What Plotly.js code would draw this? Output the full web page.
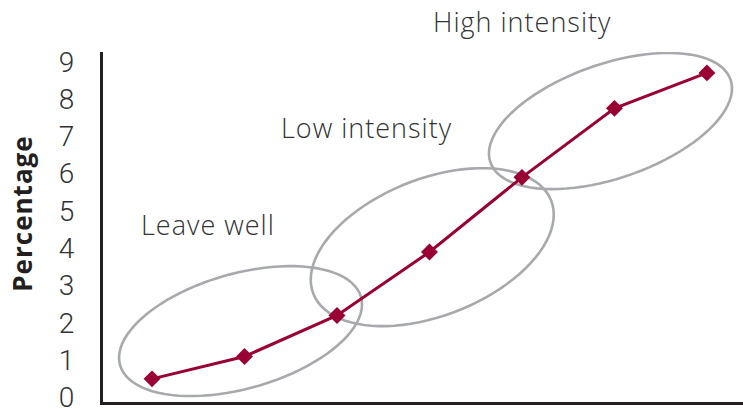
<!DOCTYPE html>
<html>
<head>
<meta charset="utf-8">
<script src="https://cdn.plot.ly/plotly-3.0.1.min.js"></script>
<style>
html,body{margin:0;padding:0;background:#fff;}
#chart{width:743px;height:409px;}
text.annotation-text{letter-spacing:1px;}
</style>
</head>
<body>
<div id="chart"></div>
<script>
// ---- data ----
var stages = [1, 2, 3, 4, 5, 6, 7];
var percentage = [0.5, 1.1, 2.2, 3.9, 5.9, 7.75, 8.7];
var yTicks = [0, 1, 2, 3, 4, 5, 6, 7, 8, 9];

var groupLabels = ["Leave well", "Low intensity", "High intensity"];
var labelX = [0.164, 0.412, 0.654];   // paper fractions
var labelY = [0.506, 0.783, 1.088];

// ellipse groups: centre (data), semi-axes (px), tilt (deg)
var ellCx = [1.957, 4.03, 5.957];
var ellCy = [1.78, 4.03, 7.41];
var ellA = [125.2, 127.7, 127];
var ellB = [57.5, 68.5, 57.2];
var ellTilt = [15.8, 21.4, 19];

// ---- layout geometry ----
var W = 743, H = 409;
var mL = 103, mR = 0, mT = 52, mB = 7;
var xRange = [0.47, 7.39];
var yRange = [-0.12, 9.26];
var pxPerX = (W - mL - mR) / (xRange[1] - xRange[0]);
var pxPerY = (H - mT - mB) / (yRange[1] - yRange[0]);

function ellipsePath(cx, cy, a, b, deg) {
  var th = deg * Math.PI / 180, n = 90, d = "";
  for (var i = 0; i <= n; i++) {
    var t = 2 * Math.PI * i / n;
    var px = a * Math.cos(t) * Math.cos(th) - b * Math.sin(t) * Math.sin(th);
    var py = a * Math.cos(t) * Math.sin(th) + b * Math.sin(t) * Math.cos(th);
    var x = cx + px / pxPerX, y = cy + py / pxPerY;
    d += (i === 0 ? "M" : "L") + x.toFixed(4) + "," + y.toFixed(4);
  }
  return d + "Z";
}

var shapes = ellCx.map(function (cx, i) {
  return {
    type: "path", xref: "x", yref: "y", layer: "below",
    path: ellipsePath(cx, ellCy[i], ellA[i], ellB[i], ellTilt[i]),
    line: {color: "#a7a9ac", width: 2.6}
  };
});

var textFont = {family: "'Open Sans', Roboto, sans-serif", size: 27, color: "#333333", weight: 300};

var annotations = groupLabels.map(function (t, i) {
  return {text: t, x: labelX[i], y: labelY[i], xref: "paper", yref: "paper",
    showarrow: false, xanchor: "center", yanchor: "middle", font: textFont};
});
annotations.push({
  text: "Percentage", xref: "paper", yref: "paper", x: -0.126, y: 0.539,
  xanchor: "center", yanchor: "middle", showarrow: false, textangle: -90,
  font: {family: "'Open Sans', Roboto, sans-serif", size: 26, color: "#231f20", weight: 700}
});

var trace = {
  x: stages, y: percentage, type: "scatter", mode: "lines+markers",
  line: {color: "#990033", width: 3},
  marker: {symbol: "diamond", size: 13, color: "#990033"},
  cliponaxis: false, hoverinfo: "none"
};

var layout = {
  width: W, height: H,
  margin: {l: mL, r: mR, t: mT, b: mB, pad: 0},
  paper_bgcolor: "#ffffff", plot_bgcolor: "#ffffff",
  showlegend: false,
  xaxis: {range: xRange, showgrid: false, zeroline: false, showticklabels: false,
    ticks: "", showline: true, linecolor: "#231f20", linewidth: 3, fixedrange: true},
  yaxis: {range: yRange, showgrid: false, zeroline: false, tickmode: "array",
    tickvals: yTicks, ticktext: yTicks.map(String), ticks: "", ticklabelstandoff: 20,
    ticklabeloverflow: "allow",
    showline: true, linecolor: "#231f20", linewidth: 3, fixedrange: true,
    tickfont: {family: "Roboto, 'DejaVu Sans', sans-serif", size: 28, color: "#333333", weight: 300}},
  shapes: shapes,
  annotations: annotations
};

Plotly.newPlot("chart", [trace], layout, {staticPlot: true, displayModeBar: false});
</script>
</body>
</html>
